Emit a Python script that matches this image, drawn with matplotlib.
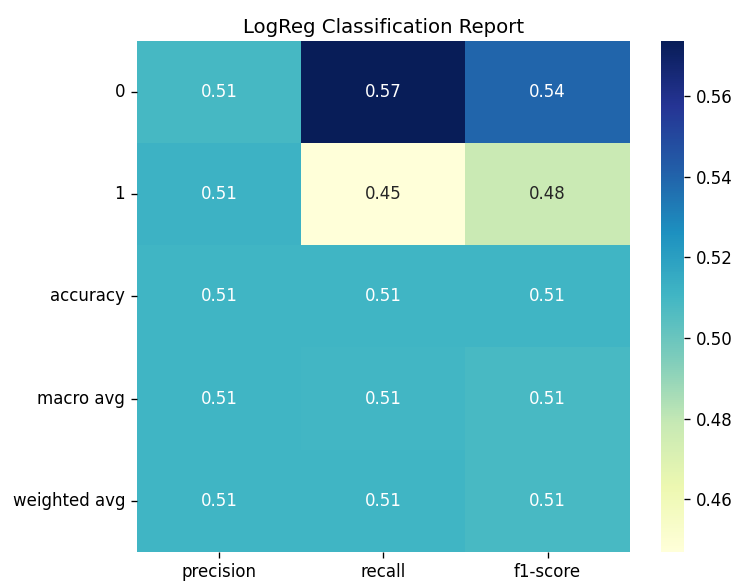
"""Classification report heatmap for the logistic regression model."""
import matplotlib
import numpy as np
import pandas as pd
import seaborn as sns

matplotlib.use("Agg")
from matplotlib import pyplot as plt

rows = ["0", "1", "accuracy", "macro avg", "weighted avg"]
metrics = ["precision", "recall", "f1-score"]
precision = [0.5093, 0.5120, 0.5104, 0.5106, 0.5106]
recall = [0.5736, 0.4470, 0.5104, 0.5103, 0.5104]
f1_score = [0.5395, 0.4772, 0.5104, 0.5084, 0.5084]

report = pd.DataFrame(
    np.column_stack([precision, recall, f1_score]),
    index=rows,
    columns=metrics,
)

fig = plt.figure(figsize=(7.37, 5.81), dpi=100)
ax = fig.add_axes([0.1855, 0.0505, 0.6690, 0.8786])
cax = fig.add_axes([0.8965, 0.0505, 0.0320, 0.8786])

sns.heatmap(
    report,
    annot=True,
    fmt=".2f",
    cmap="YlGnBu",
    ax=ax,
    cbar_ax=cax,
    annot_kws={"fontsize": 12},
)
ax.set_title("LogReg Classification Report", fontsize=14.2, pad=6)
ax.tick_params(axis="both", labelsize=12, length=4.2, width=0.96, pad=4.2)
ax.set_yticklabels(ax.get_yticklabels(), rotation=0)
cax.tick_params(labelsize=12, length=4.2, width=0.96, pad=4.2)

fig.savefig("out.png")
plt.close(fig)
